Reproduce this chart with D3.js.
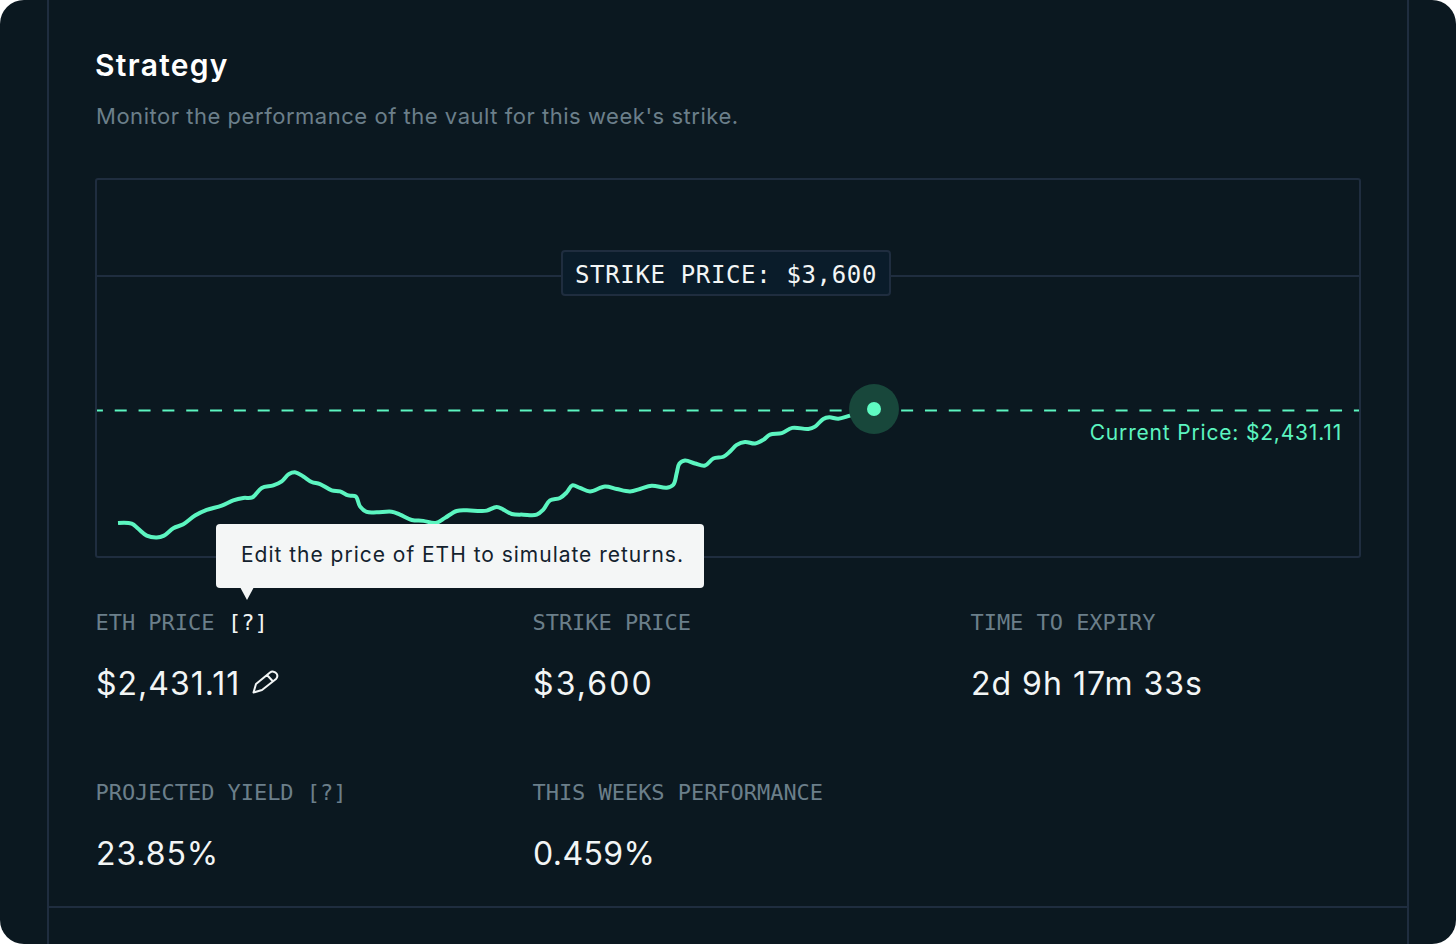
<!DOCTYPE html>
<html lang="en">
<head>
    <meta charset="UTF-8">
    <title>Strategy</title>
    <script src="https://d3js.org/d3.v7.min.js"></script>
    <style>
        html, body { margin: 0; padding: 0; background: #fff; overflow: hidden; }
        svg { display: block; }
        .sans { font-family: Inter, "Noto Sans", sans-serif; }
        .mono { font-family: "DejaVu Sans Mono", "Liberation Mono", monospace; }
    </style>
</head>
<body>
<svg id="main" width="1456" height="944" viewBox="0 0 1456 944"></svg>
<script>
    // sample position along the week, then ETH price at that sample
    let elapsed = [0, 13.7, 20.3, 28.7, 38.7, 46, 55.3, 65.3, 77, 88.7, 103.7, 115.3, 125.3, 134.3, 143.7, 155.3,
        163.7, 171, 177.7, 185.3, 193.7, 202, 213.7, 222, 230.3, 237.7, 242, 248.7, 258.7, 273.7, 282, 293.7,
        305.3, 317.7, 327, 338.7, 348.7, 362, 368.7, 378.7, 385.3, 393.7, 405.3, 418.7, 425.3, 432, 442, 448.7,
        454.3, 462, 472, 487, 498.7, 512, 522, 533.7, 548.7, 555.3, 558.7, 561.3, 567, 577, 587, 595.3, 605.3,
        612, 618.7, 627, 637, 645.3, 652, 663.7, 674.3, 690.3, 697, 705.3, 711.3, 720.3, 732, 756];
    let ethPrice = [1454, 1448, 1403, 1344, 1327, 1344, 1408, 1442, 1518, 1567, 1604, 1650, 1671, 1676, 1758, 1780,
        1815, 1879, 1893, 1858, 1810, 1792, 1737, 1728, 1693, 1685, 1598, 1550, 1546, 1552, 1526, 1480,
        1472, 1454, 1498, 1558, 1564, 1558, 1561, 1593, 1570, 1532, 1526, 1526, 1570, 1650, 1671, 1719,
        1780, 1758, 1728, 1771, 1749, 1728, 1749, 1777, 1760, 1786, 1887, 1968, 1997, 1971, 1953, 2014, 2029,
        2074, 2132, 2158, 2144, 2176, 2222, 2234, 2280, 2271, 2291, 2358, 2372, 2360, 2386, 2444];
    let strikePrice = 3600;
    let currentPrice = 2431.11;
    let statLabels = ['ETH PRICE', 'STRIKE PRICE', 'TIME TO EXPIRY', 'PROJECTED YIELD [?]', 'THIS WEEKS PERFORMANCE'];
    let statValues = ['$2,431.11', '$3,600', '2d 9h 17m 33s', '23.85%', '0.459%'];

    const bg = '#0b1820', rule = '#1f2d3f', mint = '#5cf5c0', muted = '#6b7f8a';
    let svg = d3.select('svg');

    svg.append('rect').attr('width', 1456).attr('height', 944).attr('rx', 24).attr('fill', bg);

    // page rules
    svg.append('line').attr('x1', 48).attr('x2', 48).attr('y1', 0).attr('y2', 944).attr('stroke', rule).attr('stroke-width', 2);
    svg.append('line').attr('x1', 1408).attr('x2', 1408).attr('y1', 0).attr('y2', 944).attr('stroke', rule).attr('stroke-width', 2);
    svg.append('line').attr('x1', 48).attr('x2', 1408).attr('y1', 907).attr('y2', 907).attr('stroke', rule).attr('stroke-width', 2);

    svg.append('text').attr('class', 'sans').attr('x', 95).attr('y', 76)
        .attr('font-size', 30).attr('font-weight', 600).attr('letter-spacing', 1.3).attr('fill', '#fff').text('Strategy');
    svg.append('text').attr('class', 'sans').attr('x', 96).attr('y', 124)
        .attr('font-size', 22).attr('letter-spacing', 0.53).attr('fill', muted)
        .text("Monitor the performance of the vault for this week's strike.");

    // plot box
    svg.append('rect').attr('x', 96).attr('y', 179).attr('width', 1264).attr('height', 378).attr('rx', 2)
        .attr('fill', 'none').attr('stroke', rule).attr('stroke-width', 2);

    let xScale = d3.scaleLinear().domain([0, 756]).range([118, 874]);
    let yScale = d3.scaleLinear().domain([currentPrice, strikePrice]).range([410.5, 276]);

    // strike line and its label
    svg.append('line').attr('x1', 96).attr('x2', 1360).attr('y1', yScale(strikePrice)).attr('y2', yScale(strikePrice))
        .attr('stroke', rule).attr('stroke-width', 2);
    svg.append('rect').attr('x', 562).attr('y', 251).attr('width', 328).attr('height', 44).attr('rx', 3)
        .attr('fill', '#0a1c2a').attr('stroke', rule).attr('stroke-width', 2);
    svg.append('text').attr('class', 'mono').attr('x', 575).attr('y', 282.5)
        .attr('font-size', 24).attr('letter-spacing', 0.65).attr('fill', '#f2f5f5').text('STRIKE PRICE: $3,600');

    // current price
    svg.append('line').attr('x1', 97).attr('x2', 1359).attr('y1', yScale(currentPrice)).attr('y2', yScale(currentPrice))
        .attr('stroke', mint).attr('stroke-width', 1.8).attr('stroke-dasharray', '12 11.83').attr('stroke-dashoffset', 6.1);
    svg.append('text').attr('class', 'sans').attr('x', 1342).attr('y', 440).attr('text-anchor', 'end')
        .attr('font-size', 21).attr('letter-spacing', 0.82).attr('fill', mint).text('Current Price: $2,431.11');

    let priceLine = d3.line()
        .x(function(d, i) { return xScale(elapsed[i]); })
        .y(function(d) { return yScale(d); })
        .curve(d3.curveCatmullRom);
    svg.append('path').datum(ethPrice).attr('d', priceLine)
        .attr('fill', 'none').attr('stroke', mint).attr('stroke-width', 4);

    let lastX = xScale(elapsed[elapsed.length - 1]), lastY = yScale(ethPrice[ethPrice.length - 1]);
    svg.append('circle').attr('cx', lastX).attr('cy', lastY).attr('r', 25).attr('fill', '#18473b');
    svg.append('circle').attr('cx', lastX).attr('cy', lastY).attr('r', 7).attr('fill', '#5ffbc2');

    // tooltip
    svg.append('rect').attr('x', 216).attr('y', 524).attr('width', 488).attr('height', 64).attr('rx', 4).attr('fill', '#f4f6f6');
    svg.append('path').attr('d', 'M240,587 L254,587 L247,600 Z').attr('fill', '#f4f6f6');
    svg.append('text').attr('class', 'sans').attr('x', 241).attr('y', 562)
        .attr('font-size', 21).attr('letter-spacing', 0.98).attr('fill', '#13222e')
        .text('Edit the price of ETH to simulate returns.');

    // stats
    let statX = [96, 533, 971, 96, 533];
    let statY = [630, 630, 630, 800, 800];
    let statSpacing = [1.0, 2.1, 1.0, 0.9, 0.4];
    statLabels.forEach(function(label, i) {
        svg.append('text').attr('class', 'mono').attr('x', statX[i] - 0.5).attr('y', statY[i] - 0.5)
            .attr('font-size', 22).attr('letter-spacing', -0.04).attr('fill', muted).text(label);
        svg.append('text').attr('class', 'sans').attr('x', statX[i]).attr('y', statY[i] + 65)
            .attr('font-size', 32).attr('letter-spacing', statSpacing[i]).attr('fill', '#f2f5f5').text(statValues[i]);
    });
    svg.append('text').attr('class', 'mono').attr('x', 228).attr('y', 629.5)
        .attr('font-size', 22).attr('letter-spacing', -0.04).attr('fill', '#f2f5f5').text('[?]');

    // pencil icon
    svg.append('path')
        .attr('d', 'M253.5,692.5 L256,684 L270,672.5 C272,671 275,671.5 276.5,673.5 C277.8,675.5 277.5,677.5 276,679 L262,690 Z M267,675 L273.5,682')
        .attr('fill', 'none').attr('stroke', '#f2f5f5').attr('stroke-width', 2).attr('stroke-linejoin', 'round');
</script>
</body>
</html>
